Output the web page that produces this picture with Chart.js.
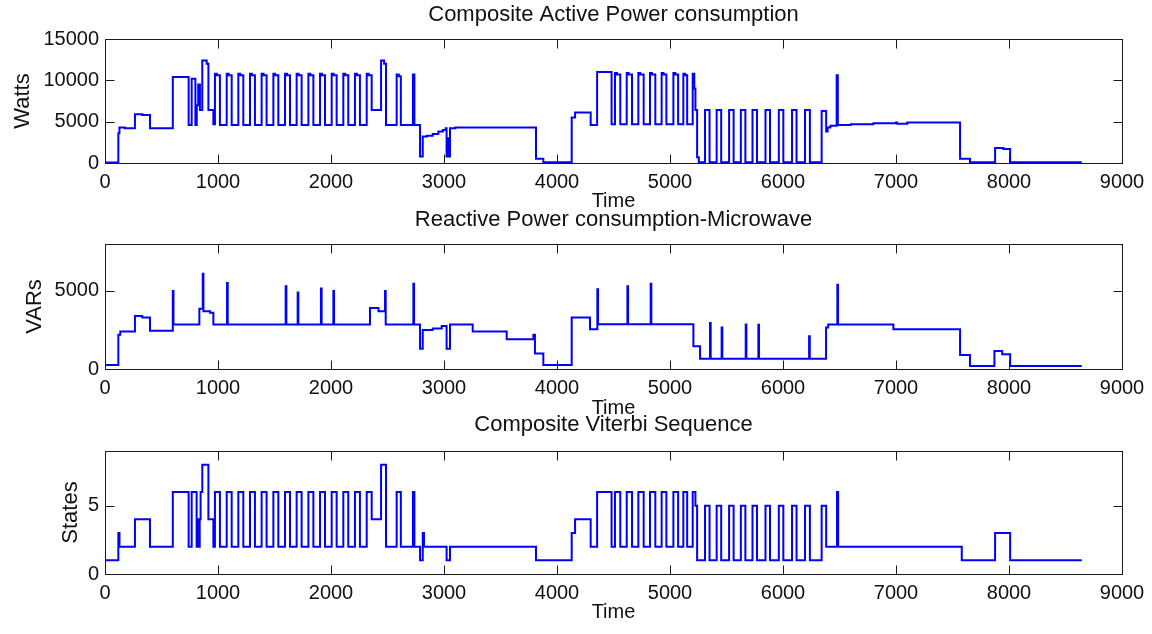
<!DOCTYPE html>
<html>
<head>
<meta charset="utf-8">
<title>Composite power consumption and Viterbi sequence</title>
<script src="https://cdn.jsdelivr.net/npm/chart.js@4.4.1/dist/chart.umd.min.js"></script>
<style>
  html, body { margin: 0; padding: 0; background: #fff; }
  #wrap { position: relative; width: 1152px; height: 634px; overflow: hidden; background: #fff; }
  #wrap canvas { position: absolute; left: 0; top: 0; }
</style>
</head>
<body>
<div id="wrap">
  <canvas id="active" width="1152" height="634"></canvas>
  <canvas id="reactive" width="1152" height="634"></canvas>
  <canvas id="viterbi" width="1152" height="634"></canvas>
</div>
<script>
// Tick labels
const timeTicks = [0, 1000, 2000, 3000, 4000, 5000, 6000, 7000, 8000, 9000];
const wattTicks = [0, 5000, 10000, 15000];
const varTicks = [0, 5000];
const stateTicks = [0, 5];

// Each series is a list of [time, value] breakpoints; a value holds until the next time.
const activePower = [
  [0, 50], [118, 3600], [128, 4300], [175, 4200], [265, 5900], [330, 5800], [398, 4200],
  [600, 10400], [740, 4600], [767, 10200], [800, 4600], [812, 7000], [825, 9500], [840, 6400],
  [861, 12400], [900, 12000], [915, 6400], [959, 4700],
  [973, 10800], [990, 10600], [1017, 4600],
  [1077, 10800], [1094, 10600], [1121, 4600],
  [1180, 10800], [1197, 10600], [1224, 4600],
  [1283, 10800], [1300, 10600], [1327, 4600],
  [1386, 10800], [1403, 10600], [1430, 4600],
  [1490, 10800], [1507, 10600], [1534, 4600],
  [1593, 10800], [1610, 10600], [1637, 4600],
  [1696, 10800], [1713, 10600], [1740, 4600],
  [1800, 10800], [1817, 10600], [1844, 4600],
  [1903, 10800], [1920, 10600], [1947, 4600],
  [2006, 10800], [2023, 10600], [2050, 4600],
  [2109, 10800], [2126, 10600], [2153, 4600],
  [2212, 10800], [2229, 10600], [2256, 4600],
  [2316, 10800], [2333, 10600], [2360, 6400],
  [2443, 12400], [2470, 12000], [2487, 4600],
  [2581, 10700], [2600, 10500], [2618, 4600],
  [2725, 10700], [2738, 4600],
  [2788, 800], [2812, 3200], [2850, 3300], [2900, 3500], [2950, 3800], [2990, 4000], [3015, 4200],
  [3023, 800], [3035, 3000], [3040, 800], [3053, 4200], [3100, 4300],
  [3814, 500], [3879, 100],
  [4130, 5500], [4160, 6100], [4298, 4600], [4355, 11000], [4483, 4700],
  [4513, 10900], [4530, 10700], [4560, 4700],
  [4617, 10900], [4634, 10700], [4664, 4700],
  [4720, 10900], [4737, 10700], [4767, 4700],
  [4823, 10900], [4840, 10700], [4870, 4700],
  [4926, 10900], [4943, 10700], [4968, 4700],
  [5030, 10900], [5047, 10700], [5072, 4700],
  [5118, 10800], [5135, 10600], [5152, 4700],
  [5201, 10800], [5215, 9000], [5225, 6400], [5240, 700], [5255, 100],
  [5310, 6400], [5350, 100],
  [5413, 6400], [5453, 100],
  [5523, 6400], [5563, 100],
  [5627, 6400], [5667, 100],
  [5730, 6400], [5770, 100],
  [5845, 6400], [5885, 100],
  [5963, 6400], [6003, 100],
  [6080, 6400], [6120, 100],
  [6195, 6400], [6238, 100],
  [6342, 6300], [6382, 3800], [6395, 4300], [6420, 4500],
  [6475, 10600], [6485, 4600], [6600, 4700], [6800, 4800], [7000, 4900], [7010, 4750], [7100, 4900],
  [7567, 500], [7655, 100], [7877, 1800], [7950, 1700], [8010, 100], [8644, 100]
];

const reactivePower = [
  [0, 250], [118, 2200], [135, 2400], [265, 3400], [330, 3300], [398, 2450],
  [600, 5000], [606, 2850], [835, 3850], [865, 6100], [871, 3700], [930, 3600], [959, 2850],
  [1080, 5500], [1086, 2850], [1599, 5300], [1605, 2850], [1705, 4900], [1711, 2850],
  [1911, 5150], [1917, 2850], [2021, 5000], [2027, 2850],
  [2345, 3900], [2420, 3700], [2478, 5000], [2484, 2850], [2729, 5450], [2735, 2850],
  [2788, 1300], [2812, 2500], [2900, 2600], [2980, 2750], [3023, 1300], [3053, 2850],
  [3254, 2400], [3555, 1900], [3791, 2200], [3805, 1000], [3879, 250],
  [4130, 3300], [4292, 2550], [4357, 5100], [4363, 2870], [4623, 5300], [4629, 2870],
  [4829, 5450], [4835, 2870],
  [5207, 1450], [5266, 650],
  [5354, 2950], [5360, 650], [5457, 2650], [5463, 650], [5670, 2850], [5676, 650],
  [5782, 2830], [5788, 650], [6231, 2100], [6237, 650],
  [6381, 2650], [6400, 2850], [6481, 5400], [6487, 2850], [6977, 2550],
  [7567, 900], [7655, 200], [7871, 1150], [7940, 950], [8010, 200], [8644, 200]
];

const viterbiStates = [
  [0, 1], [118, 3], [128, 2], [265, 4], [398, 2], [600, 6], [740, 2], [767, 6], [811, 2],
  [822, 4], [830, 2], [838, 4], [846, 6], [861, 8], [915, 4], [959, 2],
  [973, 6], [1017, 2], [1077, 6], [1121, 2], [1180, 6], [1224, 2], [1283, 6], [1327, 2],
  [1386, 6], [1430, 2], [1490, 6], [1534, 2], [1593, 6], [1637, 2], [1696, 6], [1740, 2],
  [1800, 6], [1844, 2], [1903, 6], [1947, 2], [2006, 6], [2050, 2], [2109, 6], [2153, 2],
  [2212, 6], [2256, 2], [2316, 6], [2360, 4],
  [2443, 8], [2487, 2], [2581, 6], [2618, 2], [2725, 6], [2738, 2],
  [2788, 1], [2812, 3], [2823, 2], [3023, 1], [3053, 2], [3814, 1],
  [4130, 3], [4160, 4], [4298, 2], [4355, 6], [4483, 2],
  [4513, 6], [4560, 2], [4617, 6], [4664, 2], [4720, 6], [4767, 2], [4823, 6], [4870, 2],
  [4926, 6], [4968, 2], [5030, 6], [5072, 2], [5118, 6], [5152, 2], [5201, 6], [5225, 5], [5240, 1],
  [5310, 5], [5350, 1], [5413, 5], [5453, 1], [5523, 5], [5563, 1], [5627, 5], [5667, 1],
  [5730, 5], [5770, 1], [5845, 5], [5885, 1], [5963, 5], [6003, 1], [6080, 5], [6120, 1],
  [6195, 5], [6238, 1], [6342, 5], [6382, 2],
  [6478, 6], [6488, 2], [7582, 1], [7877, 3], [8010, 1], [8644, 1]
];

const FONT = "'Liberation Sans', Arial, Helvetica, sans-serif";
const INK = '#111111';
const LINE = '#0000ff';
const PAGE_H = 634;
const AREA_LEFT = 105;
const AREA_RIGHT = 1122;

// Box around each axes with short inward tick marks on all four sides
const framePlugin = {
  id: 'frame',
  afterDatasetsDraw(chart) {
    const { ctx, chartArea: a, scales } = chart;
    const len = 9;
    ctx.save();
    ctx.strokeStyle = '#1a1a1a';
    ctx.lineWidth = 1;
    const l = Math.round(a.left) + 0.5, r = Math.round(a.right) + 0.5;
    const t = Math.round(a.top) + 0.5, b = Math.round(a.bottom) + 0.5;
    ctx.strokeRect(l, t, r - l, b - t);
    ctx.beginPath();
    scales.x.ticks.forEach(tk => {
      const px = Math.round(scales.x.getPixelForValue(tk.value)) + 0.5;
      ctx.moveTo(px, b); ctx.lineTo(px, b - len);
      ctx.moveTo(px, t); ctx.lineTo(px, t + len);
    });
    scales.y.ticks.forEach(tk => {
      const py = Math.round(scales.y.getPixelForValue(tk.value)) + 0.5;
      ctx.moveTo(l, py); ctx.lineTo(l + len, py);
      ctx.moveTo(r, py); ctx.lineTo(r - len, py);
    });
    ctx.stroke();
    ctx.restore();
  }
};

function drawPanel(id, spec) {
  const g = spec.band;
  const titleLH = 22 * 1.2;
  const yTitleLH = 22 * 1.2;
  const xTitleLH = 20 * 1.2;
  return new Chart(document.getElementById(id), {
    type: 'line',
    data: {
      datasets: [{
        data: spec.series.map(p => ({ x: p[0], y: p[1] })),
        stepped: 'before',
        borderColor: LINE,
        borderWidth: 2,
        pointRadius: 0,
        fill: false
      }]
    },
    options: {
      responsive: false,
      animation: false,
      devicePixelRatio: 1,
      layout: { padding: { left: 0, right: 1152 - AREA_RIGHT, top: g.titleY - titleLH / 2, bottom: 0 } },
      plugins: {
        legend: { display: false },
        tooltip: { enabled: false },
        title: {
          display: true,
          fullSize: false,
          text: spec.title,
          color: INK,
          font: { family: FONT, size: 22, weight: 'normal' },
          padding: { top: 0, bottom: g.top - g.titleY - titleLH / 2 }
        }
      },
      scales: {
        x: {
          type: 'linear',
          min: 0,
          max: 9000,
          grid: { display: false, drawTicks: false },
          border: { display: false },
          afterBuildTicks: s => { s.ticks = timeTicks.map(v => ({ value: v })); },
          afterFit: s => { s.height = PAGE_H - g.bottom; },
          ticks: {
            color: INK, font: { family: FONT, size: 20 }, padding: 7,
            maxRotation: 0, autoSkip: false, callback: v => String(v)
          },
          title: {
            display: true, text: 'Time', color: INK,
            font: { family: FONT, size: 20 },
            padding: { top: 0, bottom: PAGE_H - g.timeY - xTitleLH / 2 }
          }
        },
        y: {
          type: 'linear',
          min: 0,
          max: spec.yMax,
          grid: { display: false, drawTicks: false },
          border: { display: false },
          afterBuildTicks: s => { s.ticks = spec.yTicks.map(v => ({ value: v })); },
          afterFit: s => { s.width = AREA_LEFT; },
          ticks: { color: INK, font: { family: FONT, size: 20 }, padding: 6, callback: v => String(v) },
          title: {
            display: true, text: spec.yLabel, color: INK,
            font: { family: FONT, size: 22 },
            padding: { top: g.yTitleX - yTitleLH / 2, bottom: 0 }
          }
        }
      }
    },
    plugins: [framePlugin]
  });
}

drawPanel('active', {
  title: 'Composite Active Power consumption',
  yLabel: 'Watts',
  yMax: 15000,
  yTicks: wattTicks,
  series: activePower,
  band: { top: 39, bottom: 163, titleY: 15, timeY: 201, yTitleX: 23 }
});

drawPanel('reactive', {
  title: 'Reactive Power consumption-Microwave',
  yLabel: 'VARs',
  yMax: 8000,
  yTicks: varTicks,
  series: reactivePower,
  band: { top: 244, bottom: 369, titleY: 220, timeY: 408, yTitleX: 35 }
});

drawPanel('viterbi', {
  title: 'Composite Viterbi Sequence',
  yLabel: 'States',
  yMax: 9,
  yTicks: stateTicks,
  series: viterbiStates,
  band: { top: 451, bottom: 574, titleY: 425, timeY: 612, yTitleX: 71 }
});
</script>
</body>
</html>
